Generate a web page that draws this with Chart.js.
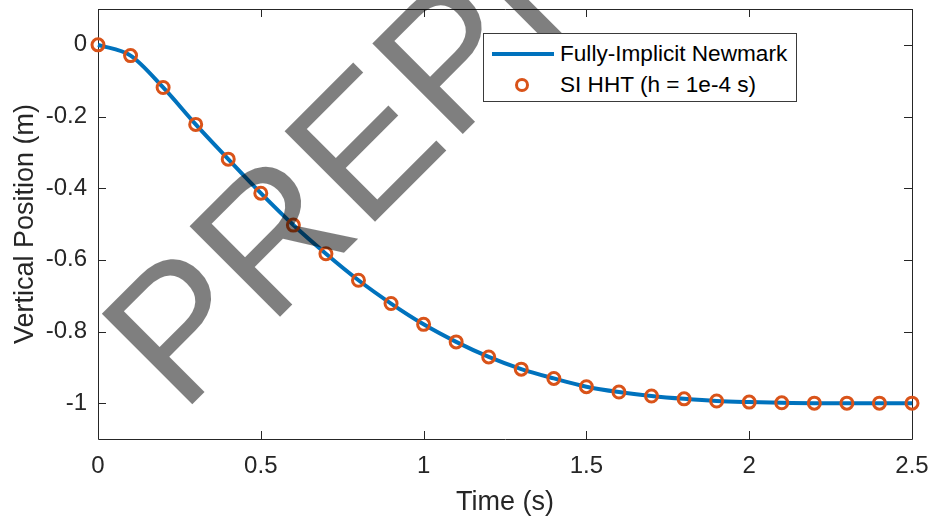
<!DOCTYPE html>
<html>
<head>
<meta charset="utf-8">
<script src="https://cdn.jsdelivr.net/npm/chart.js@4.4.1/dist/chart.umd.min.js"></script>
<style>
    html, body { margin: 0; padding: 0; background: #fff; }
    #wrap { position: relative; width: 933px; height: 518px; }
    .legend {
        position: absolute; left: 483px; top: 33px; width: 314px; height: 69px;
        box-sizing: border-box; border: 1px solid #3a3a3a; background: #fff;
        font: 22.6px "Liberation Sans", Arial, sans-serif; color: #000;
    }
    .legend-line { position: absolute; left: 8px; top: 18px; width: 62px; height: 4px; background: #0072BD; }
    .legend-dot {
        position: absolute; left: 31px; top: 44px; width: 14px; height: 14px;
        box-sizing: border-box; border: 3px solid #D95319; border-radius: 50%;
    }
    .legend-text { position: absolute; left: 76px; line-height: 26px; white-space: nowrap; }
</style>
</head>
<body>
<div id="wrap">
    <canvas id="chart" width="933" height="518"></canvas>
    <div class="legend">
        <div class="legend-line"></div>
        <div class="legend-text" style="top:7px">Fully-Implicit Newmark</div>
        <div class="legend-dot"></div>
        <div class="legend-text" style="top:38px">SI HHT (h = 1e-4 s)</div>
    </div>
</div>
<script>
const FONT = '"Liberation Sans", Arial, Helvetica, sans-serif';

// time samples (s) and vertical position (m)
const timeS = [0, 0.1, 0.2, 0.3, 0.4, 0.5, 0.6, 0.7, 0.8, 0.9, 1.0, 1.1, 1.2,
    1.3, 1.4, 1.5, 1.6, 1.7, 1.8, 1.9, 2.0, 2.1, 2.2, 2.3, 2.4, 2.5];
const newmarkPos = [0, -0.030, -0.119, -0.222, -0.319, -0.414, -0.503, -0.583, -0.657,
    -0.722, -0.780, -0.829, -0.871, -0.905, -0.931, -0.954, -0.969, -0.980, -0.988,
    -0.994, -0.997, -0.999, -1.0, -1.0, -1.0, -1.0];
const hhtPos = [0, -0.030, -0.119, -0.222, -0.319, -0.414, -0.503, -0.583, -0.657,
    -0.722, -0.780, -0.829, -0.871, -0.905, -0.931, -0.954, -0.969, -0.980, -0.988,
    -0.994, -0.997, -0.999, -1.0, -1.0, -1.0, -1.0];

const xTicks = [0, 0.5, 1, 1.5, 2, 2.5];
const yTicks = [-1, -0.8, -0.6, -0.4, -0.2, 0];

const toPoints = ys => timeS.map((t, i) => ({ x: t, y: ys[i] }));

// axes box with inward tick marks on all four sides (MATLAB look)
const frame = {
    id: 'frame',
    beforeDatasetsDraw(chart) {
        const { ctx, chartArea: a, scales: { x, y } } = chart;
        const len = 8;
        ctx.save();
        ctx.strokeStyle = '#262626';
        ctx.lineWidth = 1;
        ctx.beginPath();
        ctx.rect(a.left + 0.5, a.top + 0.5, a.right - a.left, a.bottom - a.top);
        x.ticks.forEach(t => {
            const px = Math.round(x.getPixelForValue(t.value)) + 0.5;
            ctx.moveTo(px, a.bottom); ctx.lineTo(px, a.bottom - len);
            ctx.moveTo(px, a.top); ctx.lineTo(px, a.top + len);
        });
        y.ticks.forEach(t => {
            const py = Math.round(y.getPixelForValue(t.value)) + 0.5;
            ctx.moveTo(a.left, py); ctx.lineTo(a.left + len, py);
            ctx.moveTo(a.right, py); ctx.lineTo(a.right - len, py);
        });
        ctx.stroke();
        ctx.restore();
    }
};

// semi-transparent "PREPRINT" stamp across the figure
const watermark = {
    id: 'watermark',
    afterDraw(chart) {
        const ctx = chart.ctx;
        ctx.save();
        ctx.translate(181.6, 415.1);
        ctx.rotate(-Math.PI / 4);
        ctx.font = '186px ' + FONT;
        ctx.fillStyle = 'rgba(0,0,0,0.5)';
        ctx.textAlign = 'left';
        ctx.textBaseline = 'alphabetic';
        ctx.fillText('PREPRINT', 0, 0);
        ctx.restore();
    }
};

new Chart(document.getElementById('chart'), {
    type: 'line',
    data: {
        datasets: [{
            label: 'SI HHT (h = 1e-4 s)',
            data: toPoints(hhtPos),
            showLine: false,
            pointStyle: 'circle',
            pointRadius: 6,
            pointBorderWidth: 3,
            pointBorderColor: '#D95319',
            pointBackgroundColor: 'rgba(0,0,0,0)',
            clip: false
        }, {
            label: 'Fully-Implicit Newmark',
            data: toPoints(newmarkPos),
            borderColor: '#0072BD',
            borderWidth: 4,
            pointRadius: 0,
            cubicInterpolationMode: 'monotone',
            fill: false,
            clip: false
        }]
    },
    options: {
        responsive: false,
        animation: false,
        devicePixelRatio: 1,
        layout: { padding: { top: 7, right: 21, bottom: 0, left: 0 } },
        plugins: { legend: { display: false }, tooltip: { enabled: false } },
        scales: {
            x: {
                type: 'linear',
                min: 0,
                max: 2.5,
                afterBuildTicks: s => { s.ticks = xTicks.map(v => ({ value: v })); },
                afterFit: s => { s.height = 79; s.paddingLeft = 0; s.paddingRight = 0; },
                grid: { display: false, drawTicks: false },
                border: { display: false },
                ticks: {
                    padding: 13, color: '#262626', maxRotation: 0, autoSkip: false,
                    font: { size: 24, family: FONT },
                    callback: v => String(v)
                },
                title: {
                    display: true, text: 'Time (s)', color: '#262626',
                    font: { size: 27, family: FONT, lineHeight: 1 },
                    padding: { top: 0, bottom: 2 }
                }
            },
            y: {
                type: 'linear',
                min: -1.1,
                max: 0.1,
                afterBuildTicks: s => { s.ticks = yTicks.map(v => ({ value: v })); },
                afterFit: s => { s.width = 98; s.paddingTop = 0; s.paddingBottom = 0; },
                grid: { display: false, drawTicks: false },
                border: { display: false },
                ticks: {
                    padding: 11, color: '#262626', autoSkip: false,
                    font: { size: 24, family: FONT },
                    callback: v => String(v)
                },
                title: {
                    display: true, text: 'Vertical Position (m)', color: '#262626',
                    font: { size: 27, family: FONT, lineHeight: 1 },
                    padding: { top: 12, bottom: 0 }
                }
            }
        }
    },
    plugins: [frame, watermark]
});
</script>
</body>
</html>
